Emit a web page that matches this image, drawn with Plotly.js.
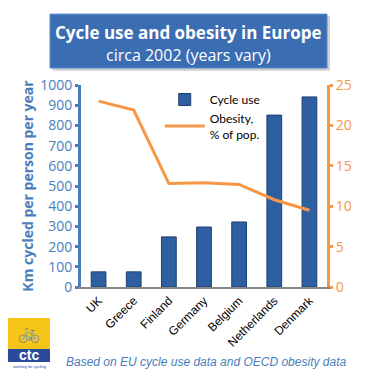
<!DOCTYPE html>
<html><head><meta charset="utf-8">
<script src="https://cdn.plot.ly/plotly-3.0.1.min.js"></script>
<style>html,body{margin:0;padding:0;background:#fff}#chart{width:372px;height:381px}</style>
</head><body><div id="chart"></div>
<script>
const countries = ["UK","Greece","Finland","Germany","Belgium","Netherlands","Denmark"];
const cycleKm = [75, 75, 248, 297, 322, 851, 941];
const obesityPct = [23.0, 21.9, 12.8, 12.9, 12.7, 10.8, 9.5];
const leftTicks = [0,100,200,300,400,500,600,700,800,900,1000];
const rightTicks = [0,5,10,15,20,25];

const blue = "#4a7ebb", orange = "#f79646";
const traces = [
  {type:"bar", x:countries, y:cycleKm, name:"Cycle use", width:0.42,
   marker:{color:"#2e5fa0", line:{color:"#1f406e", width:1}}, yaxis:"y"},
  {type:"scatter", mode:"lines", x:countries, y:obesityPct, name:"Obesity,<br>% of pop.",
   line:{color:orange, width:3}, yaxis:"y2"}
];
const mid = {xanchor:"center", yanchor:"middle", showarrow:false, xref:"paper", yref:"paper"};
const layout = {
  width:372, height:381, margin:{l:81, r:45, t:85, b:94},
  paper_bgcolor:"#fff", plot_bgcolor:"#fff", showlegend:true,
  font:{family:"Liberation Sans, Arial, sans-serif"},
  legend:{x:0.32, y:1.0, xanchor:"left", yanchor:"top", bgcolor:"rgba(0,0,0,0)",
    font:{size:12, color:"#000", family:"Lato, Liberation Sans, sans-serif"}, tracegroupgap:10, itemwidth:40},
  xaxis:{tickangle:-45, tickfont:{size:12, color:"#000"}, showline:true, linecolor:"#888", linewidth:2,
    ticks:"", showgrid:false, zeroline:false},
  yaxis:{range:[0,1000], tickvals:leftTicks, showgrid:false, zeroline:false, showline:true,
    linecolor:blue, linewidth:3, ticks:"outside", ticklen:3, tickwidth:3, tickcolor:blue,
    tickfont:{size:14, color:blue, family:"Open Sans, sans-serif"},
    title:{text:"<b>Km cycled per person per year</b>", font:{size:14, color:blue, family:"Open Sans, sans-serif"}, standoff:4}},
  yaxis2:{range:[0,25], tickvals:rightTicks, overlaying:"y", side:"right", showgrid:false, zeroline:false,
    showline:true, linecolor:orange, linewidth:3, ticks:"outside", ticklen:3, tickwidth:3, tickcolor:orange,
    tickfont:{size:14, color:orange, family:"Open Sans, sans-serif"}},
  shapes:[
    {type:"rect", xref:"paper", yref:"paper", x0:-0.115, x1:1.012, y0:1.07, y1:1.34,
     fillcolor:"#999", line:{width:0}, opacity:0.45},
    {type:"rect", xref:"paper", yref:"paper", x0:-0.126, x1:1.0, y0:1.084, y1:1.351,
     fillcolor:"#3b6db3", line:{color:"#5b8bd0", width:1}},
    {type:"rect", xref:"paper", yref:"paper", x0:-0.297, x1:-0.126, y0:-0.153, y1:-0.307,
     fillcolor:"#f5c518", line:{width:0}},
    {type:"rect", xref:"paper", yref:"paper", x0:-0.297, x1:-0.126, y0:-0.307, y1:-0.371,
     fillcolor:"#2b4a9c", line:{width:0}}
  ],
  annotations:[
    Object.assign({x:0.437, y:1.262, text:"<b>Cycle use and obesity in Europe</b>",
     font:{size:17, color:"#fff", family:"Open Sans, sans-serif"}}, mid),
    Object.assign({x:0.437, y:1.147, text:"circa 2002 (years vary)",
     font:{size:16, color:"#fff", family:"Open Sans, sans-serif"}}, mid),
    Object.assign({x:0.51, y:-0.371, text:"<i>Based on EU cycle use data and OECD obesity data</i>",
     font:{size:12, color:blue, family:"Liberation Sans, Arial, sans-serif"}}, mid),
    Object.assign({x:-0.211, y:-0.23, text:"🚲", font:{size:18, color:"#2b4a9c"}}, mid),
    Object.assign({x:-0.211, y:-0.339, text:"<b>ctc</b>",
     font:{size:14, color:"#fff", family:"Liberation Sans, sans-serif"}}, mid),
    Object.assign({x:-0.211, y:-0.392, text:"working for cycling", font:{size:4, color:"#2b4a9c"}}, mid)
  ]
};
Plotly.newPlot("chart", traces, layout, {displayModeBar:false, staticPlot:true});
</script></body></html>
